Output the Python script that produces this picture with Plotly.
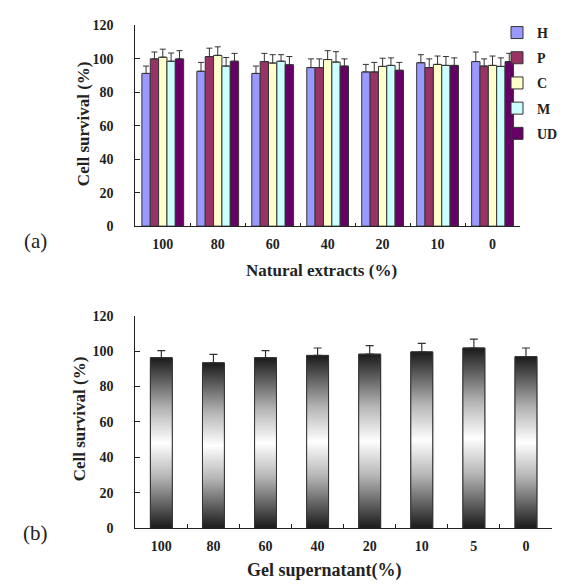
import plotly.graph_objects as go

# ---------------- data ----------------
extract_levels = ["100", "80", "60", "40", "20", "10", "0"]
series_names = ["H", "P", "C", "M", "UD"]
H_vals = [91.3, 92.6, 91.3, 94.8, 92.2, 97.7, 98.4]
H_err = [4.4, 5.3, 4.4, 5.2, 4.5, 4.8, 5.7]
P_vals = [100.0, 101.4, 98.4, 94.8, 92.2, 94.8, 95.7]
P_err = [4.1, 5.0, 4.9, 5.2, 5.7, 5.2, 4.3]
C_vals = [101.0, 102.1, 97.5, 99.6, 95.5, 96.7, 96.1]
C_err = [4.8, 5.1, 5.0, 5.3, 4.9, 5.0, 5.6]
M_vals = [98.6, 95.7, 98.6, 98.1, 96.1, 96.1, 95.5]
M_err = [4.9, 5.1, 3.9, 6.2, 4.5, 5.3, 5.1]
UD_vals = [100.0, 98.6, 96.5, 95.7, 93.2, 96.1, 98.4]
UD_err = [4.9, 4.7, 4.9, 4.3, 4.7, 4.5, 4.9]

gel_levels = ["100", "80", "60", "40", "20", "10", "5", "0"]
gel_vals = [96.3, 93.4, 96.3, 97.6, 98.3, 99.6, 101.8, 96.9]
gel_err = [4.0, 4.8, 4.0, 4.2, 4.8, 4.8, 5.0, 4.9]

y_ticks = [0, 20, 40, 60, 80, 100, 120]

# ---------------- styles ----------------
series_colors = ["#9999ff", "#993366", "#ffffcc", "#ccffff", "#660066"]
SERIF = "Liberation Serif"
AX = "#222222"
BAR_W_B = 0.42

fig = go.Figure()

all_vals = [H_vals, P_vals, C_vals, M_vals, UD_vals]
all_errs = [H_err, P_err, C_err, M_err, UD_err]
for name, vals, errs, col in zip(series_names, all_vals, all_errs, series_colors):
    fig.add_trace(go.Bar(
        x=extract_levels, y=vals, name=name, legendgroup=name,
        marker=dict(color=col, line=dict(color="#333333", width=1)),
        error_y=dict(type="data", array=errs, arrayminus=[0] * len(errs),
                     symmetric=False, color="#333333", thickness=1, width=3),
        xaxis="x", yaxis="y",
    ))

# panel (b): outline + error bars
fig.add_trace(go.Bar(
    x=gel_levels, y=gel_vals, width=BAR_W_B, showlegend=False,
    marker=dict(color="rgba(0,0,0,0)", line=dict(color="#333333", width=1)),
    error_y=dict(type="data", array=gel_err, arrayminus=[0] * len(gel_err),
                 symmetric=False, color="#333333", thickness=1.2, width=4),
    xaxis="x2", yaxis="y2",
))

# gradient bodies of panel (b) bars
grad = [[0, "#1a1a1a"], [0.12, "#585858"], [0.3, "#b5b5b5"], [0.5, "#ffffff"],
        [0.7, "#b5b5b5"], [0.88, "#585858"], [1, "#1a1a1a"]]
for i, v in enumerate(gel_vals):
    x0, x1 = i - BAR_W_B / 2, i + BAR_W_B / 2
    fig.add_trace(go.Scatter(
        x=[x0, x1, x1, x0, x0], y=[0, 0, v, v, 0], mode="lines",
        fill="toself", fillgradient=dict(type="vertical", colorscale=grad),
        line=dict(color="#333333", width=1), showlegend=False, hoverinfo="skip",
        xaxis="x3", yaxis="y2",
    ))

W, Hh = 567, 585
def px_x(p):
    return p / W
def px_y(p):
    return (Hh - p) / Hh

tickfont = dict(family=SERIF, size=14, color=AX, weight="bold")

fig.update_layout(
    width=W, height=Hh,
    margin=dict(l=0, r=0, t=0, b=0),
    paper_bgcolor="white", plot_bgcolor="white",
    barmode="group", bargap=0.24, bargroupgap=0.0,
    showlegend=True,
    legend=dict(x=px_x(489), y=px_y(2), xanchor="left", yanchor="top",
                font=dict(family=SERIF, size=14, color=AX, weight="bold"),
                bgcolor="rgba(0,0,0,0)", tracegroupgap=4),
    xaxis=dict(domain=[px_x(127.3), px_x(512)], anchor="y", type="category",
               range=[-0.5, 6.5], showline=True, linecolor=AX, linewidth=1.2,
               ticks="inside", tickson="boundaries", ticklen=3, tickcolor=AX,
               showgrid=False, tickfont=tickfont, ticklabelstandoff=5),
    yaxis=dict(domain=[px_y(216.7), px_y(10.7)], anchor="x", range=[0, 120],
               tickvals=y_ticks, showline=True, linecolor=AX, linewidth=1.2,
               ticks="inside", ticklen=5, tickcolor=AX, showgrid=False,
               zeroline=False, tickfont=tickfont, ticklabelstandoff=18),
    xaxis2=dict(domain=[px_x(127.3), px_x(544)], anchor="y2", type="category",
                range=[-0.5, 7.5], showline=True, linecolor=AX, linewidth=1.2,
                ticks="inside", tickson="boundaries", ticklen=4, tickcolor=AX,
                showgrid=False, tickfont=tickfont, ticklabelstandoff=5),
    xaxis3=dict(overlaying="x2", anchor="y2", range=[-0.5, 7.5], visible=False),
    yaxis2=dict(domain=[px_y(526.7), px_y(308.7)], anchor="x2", range=[0, 120],
                tickvals=y_ticks, showline=True, linecolor=AX, linewidth=1.2,
                ticks="inside", ticklen=5, tickcolor=AX, showgrid=False,
                zeroline=False, tickfont=tickfont, ticklabelstandoff=18),
)

title_font = dict(family=SERIF, size=17, color=AX, weight="bold")
ann = [
    dict(text="Cell survival (%)", x=px_x(75), y=px_y(112), textangle=-90, font=title_font),
    dict(text="Natural extracts (%)", x=px_x(313), y=px_y(262), font=title_font),
    dict(text="Cell survival (%)", x=px_x(71), y=px_y(415), textangle=-90, font=title_font),
    dict(text="Gel supernatant(%)", x=px_x(316), y=px_y(570), font=dict(family=SERIF, size=18, color=AX, weight="bold")),
    dict(text="(a)", x=px_x(27), y=px_y(232), font=dict(family=SERIF, size=21, color=AX)),
    dict(text="(b)", x=px_x(27), y=px_y(532), font=dict(family=SERIF, size=21, color=AX)),
]
for a in ann:
    fig.add_annotation(xref="paper", yref="paper", showarrow=False,
                       xanchor="center", yanchor="middle", **a)

fig.write_html("out.html")
